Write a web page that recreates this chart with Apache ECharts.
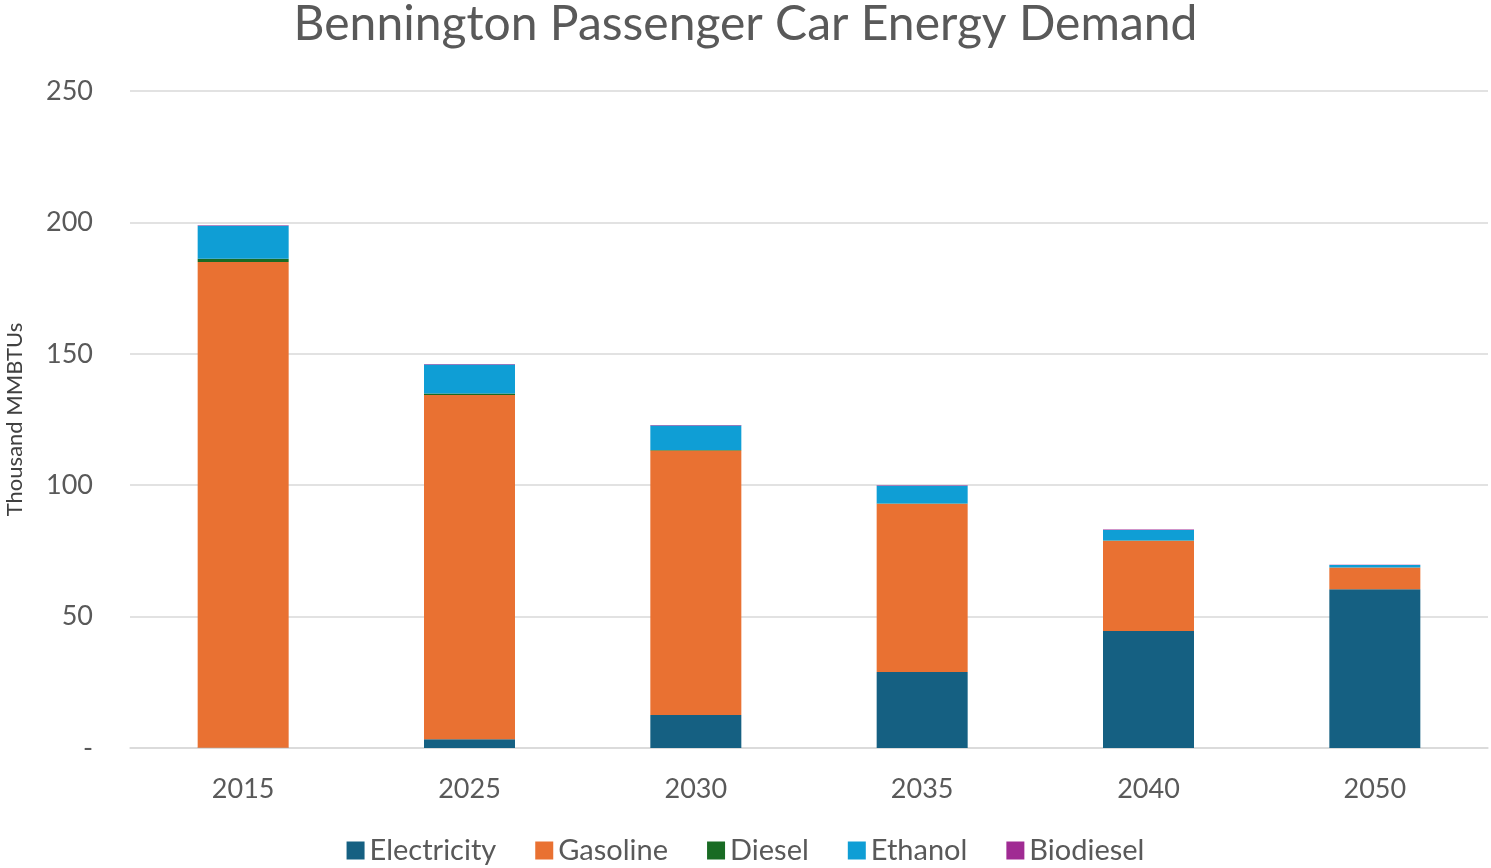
<!DOCTYPE html>
<html><head><meta charset="utf-8">
<script src="https://cdn.jsdelivr.net/npm/echarts@6/dist/echarts.min.js"></script>
<style>html,body{margin:0;padding:0;background:#fff}#c{width:1491px;height:868px}</style>
</head><body><div id="c"></div>
<script>
const categories = ['2015','2025','2030','2035','2040','2050'];
const electricity = [0.1, 3.3, 12.6, 28.9, 44.5, 60.4];
const gasoline = [184.8, 131.0, 100.6, 64.0, 34.4, 8.3];
const diesel = [1.3, 0.6, 0.2, 0.1, 0.1, 0.0];
const ethanol = [12.5, 11.0, 9.3, 6.8, 4.0, 0.9];
const biodiesel = [0.2, 0.2, 0.2, 0.2, 0.1, 0.1];
const yTicks = {min: 0, max: 250, interval: 50};

const font = 'Lato, "Open Sans", sans-serif';
const chart = echarts.init(document.getElementById('c'));
function s(name, data, color) {
  return {name, type: 'bar', stack: 'total', data, barWidth: 91,
    itemStyle: {color}, emphasis: {disabled: true}};
}
chart.setOption({
  animation: false,
  textStyle: {fontFamily: font},
  title: {text: 'Bennington Passenger Car Energy Demand', left: 'center', top: -4,
    textStyle: {fontFamily: font, fontSize: 48, fontWeight: 'normal', color: '#595959'}},
  grid: {left: 130, right: 3, top: 91, bottom: 120, outerBoundsMode: 'none', containLabel: false},
  legend: {bottom: -2, itemWidth: 18, itemHeight: 18, itemGap: 39,
    icon: 'rect',
    textStyle: {fontFamily: font, fontSize: 29, color: '#595959'}},
  xAxis: {type: 'category', data: categories,
    axisLine: {lineStyle: {color: '#d9d9d9', width: 1.5}},
    axisTick: {show: false},
    axisLabel: {fontSize: 27, color: '#595959', margin: 28, fontFamily: font}},
  yAxis: {type: 'value', min: yTicks.min, max: yTicks.max, interval: yTicks.interval,
    name: 'Thousand MMBTUs', nameLocation: 'middle', nameGap: 104, nameRotate: 90,
    nameTextStyle: {fontSize: 22, color: '#404040', fontFamily: font},
    axisLine: {show: false}, axisTick: {show: false},
    splitLine: {lineStyle: {color: '#d9d9d9', width: 1.5}},
    axisLabel: {fontSize: 27, color: '#595959', margin: 37, fontFamily: font,
      formatter: v => v === 0 ? '-' : String(v)}},
  series: [
    s('Electricity', electricity, '#156082'),
    s('Gasoline', gasoline, '#E97132'),
    s('Diesel', diesel, '#196B24'),
    s('Ethanol', ethanol, '#0F9ED5'),
    s('Biodiesel', biodiesel, '#A02B93')
  ]
});
</script></body></html>
